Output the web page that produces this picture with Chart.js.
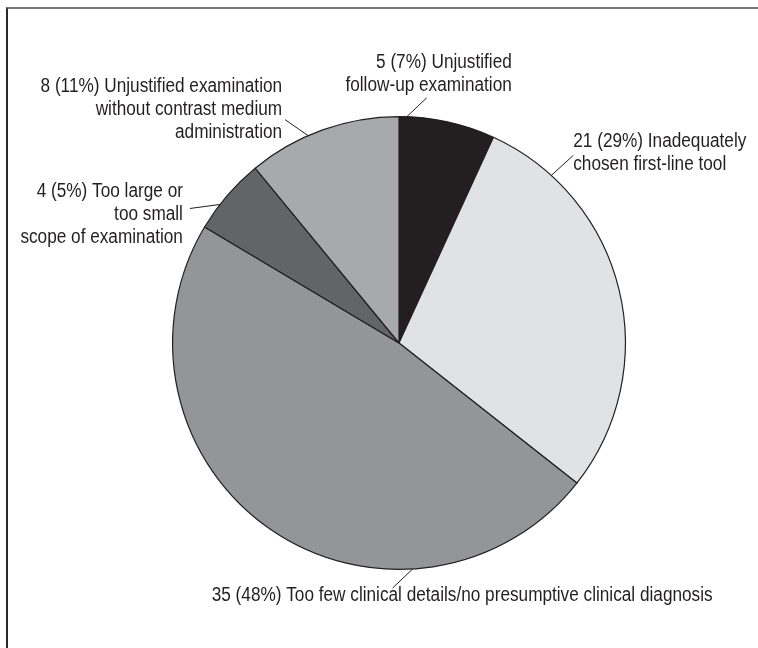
<!DOCTYPE html>
<html>
<head>
<meta charset="utf-8">
<script src="https://cdn.jsdelivr.net/npm/chart.js@4.4.1/dist/chart.umd.min.js"></script>
<style>
    html, body { margin: 0; padding: 0; background: #fff; }
    #wrap { position: relative; width: 758px; height: 648px; }
    #frame {
        position: absolute; left: 6px; top: 7px; right: 0; bottom: 0;
        border-top: 2px solid #7a7a7a; border-left: 2px solid #2a2a2a;
        pointer-events: none;
    }
</style>
</head>
<body>
<div id="wrap">
    <canvas id="pieChart"></canvas>
    <div id="frame"></div>
</div>
<script>
// data
const counts = [5, 21, 35, 4, 8];
const percents = [7, 29, 48, 5, 11];
const labelLines = [
    ['Unjustified', 'follow-up examination'],
    ['Inadequately', 'chosen first-line tool'],
    ['Too few clinical details/no presumptive clinical diagnosis'],
    ['Too large or', 'too small', 'scope of examination'],
    ['Unjustified examination', 'without contrast medium', 'administration']
];
const sliceColors = ['#231f20', '#e1e2e4', '#939598', '#636466', '#a7a9ac'];

// label layout: where the leader touches the slice (fraction of slice), leader end offset, text offset
const labelLayout = [
    { at: 0.08, lead: [20, -19], text: [85, -35], align: 'right' },
    { at: 0.17, lead: [22, -20], text: [0, -14], align: 'left' },
    { at: 0.28, lead: [-20, 19], text: [320, 7], align: 'right' },
    { at: 0.35, lead: [-30, 4], text: [-7, -17], align: 'right' },
    { at: 0.40, lead: [-23, -16], text: [-3, -33], align: 'right' }
];

const FONT = '20px "Liberation Sans Narrow", "Liberation Sans", sans-serif';
const SQUEEZE = 0.86;
const LINE_H = 23;

const calloutPlugin = {
    id: 'callouts',
    afterDatasetsDraw(chart) {
        const ctx = chart.ctx;
        const meta = chart.getDatasetMeta(0);
        ctx.save();
        ctx.font = FONT;
        ctx.fillStyle = '#231f20';
        ctx.strokeStyle = '#231f20';
        ctx.lineWidth = 1;
        ctx.textBaseline = 'middle';
        meta.data.forEach((arc, i) => {
            const lay = labelLayout[i];
            const a = arc.startAngle + (arc.endAngle - arc.startAngle) * lay.at;
            const sx = arc.x + Math.cos(a) * arc.outerRadius;
            const sy = arc.y + Math.sin(a) * arc.outerRadius;
            const ex = sx + lay.lead[0];
            const ey = sy + lay.lead[1];
            ctx.beginPath();
            ctx.moveTo(sx, sy);
            ctx.lineTo(ex, ey);
            ctx.stroke();

            const lines = labelLines[i].slice();
            lines[0] = counts[i] + ' (' + percents[i] + '%) ' + lines[0];
            const tx = ex + lay.text[0];
            let ty = ey + lay.text[1];
            lines.forEach(line => {
                const w = ctx.measureText(line).width * SQUEEZE;
                const left = lay.align === 'right' ? tx - w : tx;
                ctx.save();
                ctx.translate(left, ty);
                ctx.scale(SQUEEZE, 1);
                ctx.textAlign = 'left';
                ctx.fillText(line, 0, 0);
                ctx.restore();
                ty += LINE_H;
            });
        });
        ctx.restore();
    }
};

new Chart(document.getElementById('pieChart'), {
    type: 'pie',
    data: {
        labels: labelLines.map(l => l.join(' ')),
        datasets: [{
            data: counts,
            backgroundColor: sliceColors,
            borderColor: '#231f20',
            borderWidth: 1.2
        }]
    },
    options: {
        responsive: true,
        maintainAspectRatio: false,
        animation: false,
        layout: {
            padding: { left: 172, right: 132, top: 116, bottom: 78 }
        },
        plugins: {
            legend: { display: false },
            tooltip: { enabled: false }
        }
    },
    plugins: [calloutPlugin]
});
</script>
</body>
</html>
